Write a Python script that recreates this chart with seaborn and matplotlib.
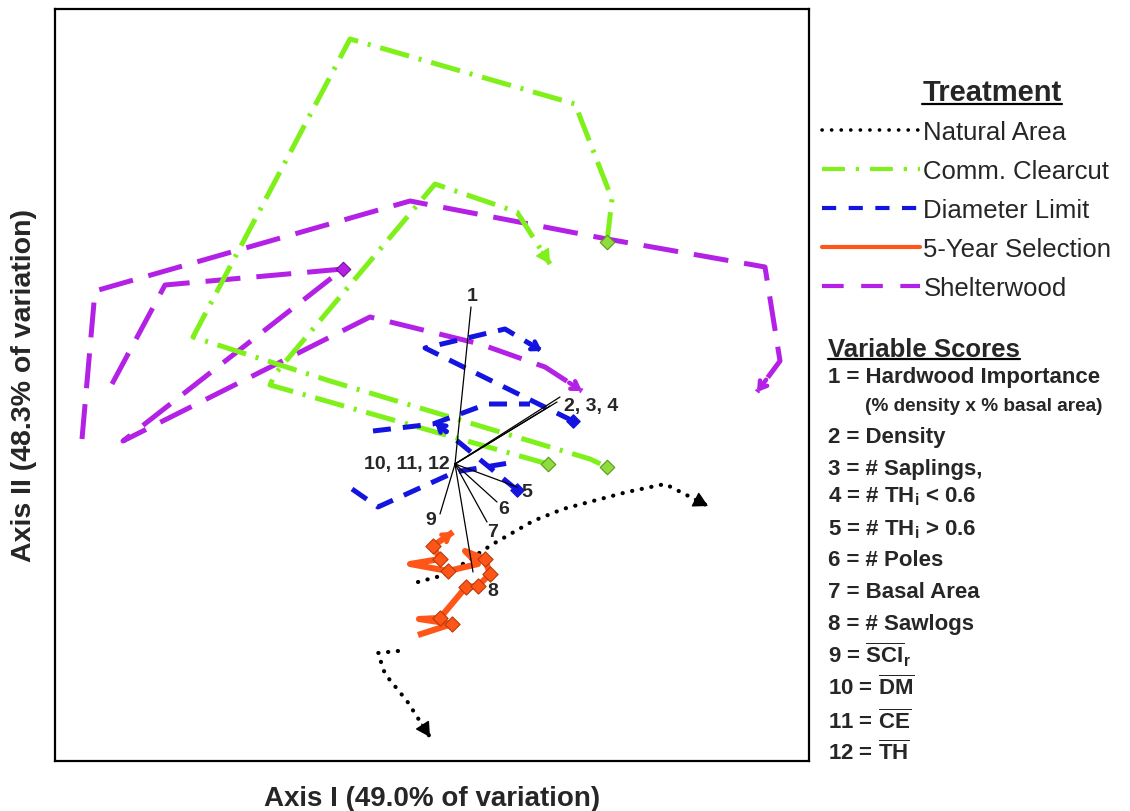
import numpy as np
import pandas as pd
import matplotlib
matplotlib.use("Agg")
import matplotlib.pyplot as plt
from matplotlib.lines import Line2D
import seaborn as sns

# ---------------- data (ordination scores) ----------------
# Natural Area (two plots)
nat_a_x = [-0.37, -0.07, 0.15, 0.38, 0.78, 1.08, 1.38, 1.72, 2.10, 2.53]
nat_a_y = [-1.18, -1.10, -0.95, -0.80, -0.57, -0.45, -0.37, -0.28, -0.20, -0.42]
nat_b_x = [-0.57, -0.77, -0.70, -0.48, -0.25]
nat_b_y = [-1.87, -1.89, -2.10, -2.37, -2.73]

# Commercial clearcut
cc_a_x = [1.52, 1.57, 1.20, -1.05, -2.62, -1.25, 1.35, 1.52]
cc_a_y = [2.22, 2.65, 3.60, 4.25, 1.27, 0.83, 0.05, -0.03]
cc_b_x = [0.93, -1.85, -1.80, -0.20, 0.62, 0.95]
cc_b_y = [0.00, 0.79, 0.90, 2.80, 2.52, 2.00]

# Diameter limit
dl_a_x = [1.18, -0.30, 0.50, 0.87]
dl_a_y = [0.43, 1.16, 1.35, 1.13]
dl_b_x = [0.62, 0.00, -0.20]
dl_b_y = [-0.26, 0.25, 0.42]
dl_c_x = [-1.03, -0.77, 0.00, 0.60]
dl_c_y = [-0.25, -0.43, -0.08, 0.02]
dl_d_x = [-0.82, -0.22, 0.32, 0.75]
dl_d_y = [0.33, 0.40, 0.60, 0.60]

# 5-year selection
sel_x = [-0.37, -0.03, -0.36, -0.15, 0.11, 0.23, 0.35, 0.30, 0.10, 0.23, -0.07, -0.45, -0.15, -0.22, -0.02]
sel_y = [-1.71, -1.60, -1.55, -1.54, -1.23, -1.22, -1.10, -0.95, -0.87, -1.00, -1.07, -1.00, -0.95, -0.82, -0.68]
sel_marked = [1, 3, 4, 5, 6, 7, 10, 12, 13]

# Shelterwood
sh_a_x = [-3.43, -2.90, -1.12, -3.32, -0.85, 0.25, 0.90, 1.27]
sh_a_y = [0.80, 1.79, 1.95, 0.23, 1.47, 1.20, 0.97, 0.73]
sh_b_x = [-3.73, -3.60, -0.45, 1.52, 3.10, 3.25, 3.02]
sh_b_y = [0.25, 1.73, 2.63, 2.25, 1.97, 1.03, 0.72]

# Variable score vectors
vec_names = ["1", "2", "3", "4", "5", "6", "7", "8", "9", "10", "11", "12"]
vec_x = [0.16, 1.05, 1.02, 0.95, 0.62, 0.42, 0.32, 0.18, -0.15, 0.0, 0.0, 0.0]
vec_y = [1.57, 0.67, 0.62, 0.58, -0.23, -0.38, -0.58, -1.08, -0.50, 0.0, 0.0, 0.0]

treatments = ["Natural Area", "Comm. Clearcut", "Diameter Limit", "5-Year Selection", "Shelterwood"]
var_score_labels = [
    "1 = Hardwood Importance",
    "(% density x % basal area)",
    "2 = Density",
    "3 = # Saplings,",
    r"4 = # TH$_\mathbf{i}$ < 0.6",
    r"5 = # TH$_\mathbf{i}$ > 0.6",
    "6 = # Poles",
    "7 = Basal Area",
    "8 = # Sawlogs",
    r"9 = $\overline{\mathbf{SCI}}_\mathbf{r}$",
    r"10 = $\overline{\mathbf{DM}}$",
    r"11 = $\overline{\mathbf{CE}}$",
    r"12 = $\overline{\mathbf{TH}}$",
]
x_label = "Axis I (49.0% of variation)"
y_label = "Axis II (48.3% of variation)"

# ---------------- style ----------------
sns.set_style("white")
plt.rcParams["font.family"] = ["Liberation Sans", "DejaVu Sans"]
plt.rcParams["mathtext.fontset"] = "custom"
plt.rcParams["mathtext.rm"] = "Liberation Sans"
plt.rcParams["mathtext.bf"] = "Liberation Sans:bold"
plt.rcParams["mathtext.it"] = "Liberation Sans:italic"

C_NAT = "black"
C_CC = "#7ff01a"
C_DL = "#1414e0"
C_SEL = "#ff5518"
C_SH = "#b421e6"

LS_NAT = (0, (0.05, 2.3))
LS_CC = (0, (6.0, 2.0, 0.6, 2.0))
LS_DL = (0, (3.6, 2.4))
LS_SH = (0, (7.0, 3.2))

fig = plt.figure(figsize=(11.3, 8.12), dpi=100)
ax = fig.add_axes([55 / 1130, 50 / 812, 754 / 1130, 752 / 812])


def draw_path(xs, ys, color, ls, lw, capstyle="butt", arrow=None, zorder=2, alen=11):
    sns.lineplot(x=xs, y=ys, sort=False, estimator=None, color=color, lw=lw, ax=ax, legend=False)
    line = ax.lines[-1]
    line.set_linestyle(ls)
    line.set_dash_capstyle(capstyle)
    line.set_solid_capstyle("butt")
    line.set_solid_joinstyle("round")
    line.set_dash_joinstyle("round")
    line.set_zorder(zorder)
    if arrow is not None:
        dx = xs[-1] - xs[-2]
        dy = ys[-1] - ys[-2]
        n = np.hypot(dx, dy)
        ux, uy = dx / n, dy / n
        ax.annotate("", xy=(xs[-1], ys[-1]), xytext=(-ux * alen, -uy * alen), textcoords="offset points",
                    arrowprops=dict(arrowstyle=arrow, color=color, lw=3.2 if arrow.startswith("->") else 1,
                                    shrinkA=0, shrinkB=0),
                    zorder=zorder)
    return line


# Shelterwood
draw_path(sh_a_x, sh_a_y, C_SH, LS_SH, 3.6, arrow="->,head_length=0.5,head_width=0.32")
draw_path(sh_b_x, sh_b_y, C_SH, LS_SH, 3.6, arrow="->,head_length=0.5,head_width=0.32")
ax.scatter([sh_a_x[2]], [sh_a_y[2]], marker="D", s=55, color=C_SH, edgecolor="#7a109a", lw=0.8, zorder=3)

# Commercial clearcut
draw_path(cc_a_x, cc_a_y, C_CC, LS_CC, 3.6)
draw_path(cc_b_x, cc_b_y, C_CC, LS_CC, 3.6, arrow="-|>,head_length=0.9,head_width=0.5")
ax.scatter([cc_a_x[0], cc_a_x[-1], cc_b_x[0]], [cc_a_y[0], cc_a_y[-1], cc_b_y[0]],
           marker="D", s=55, color="#8fdc3c", edgecolor="#5a9a20", lw=0.8, zorder=3)

# Diameter limit
draw_path(dl_a_x, dl_a_y, C_DL, LS_DL, 3.6, arrow="->,head_length=0.5,head_width=0.32")
draw_path(dl_b_x, dl_b_y, C_DL, LS_DL, 3.6, arrow="->,head_length=0.5,head_width=0.32")
draw_path(dl_c_x, dl_c_y, C_DL, LS_DL, 3.6)
draw_path(dl_d_x, dl_d_y, C_DL, LS_DL, 3.6)
ax.scatter([dl_a_x[0], dl_b_x[0]], [dl_a_y[0], dl_b_y[0]], marker="D", s=45, color=C_DL, zorder=3)

# Natural area
draw_path(nat_a_x, nat_a_y, C_NAT, LS_NAT, 3.0, capstyle="round", arrow="-|>,head_length=0.9,head_width=0.5")
draw_path(nat_b_x, nat_b_y, C_NAT, LS_NAT, 3.0, capstyle="round", arrow="-|>,head_length=0.9,head_width=0.5")

# 5-year selection
draw_path(sel_x, sel_y, C_SEL, "-", 4.4, arrow="->,head_length=0.5,head_width=0.32", zorder=4, alen=12)
ax.scatter([sel_x[i] for i in sel_marked], [sel_y[i] for i in sel_marked], marker="D", s=60,
           color=C_SEL, edgecolor="#b83a0a", lw=0.8, zorder=5)

# Variable vectors
for vx, vy in zip(vec_x, vec_y):
    ax.plot([0, vx], [0, vy], color="black", lw=0.9, zorder=6)

lab_kw = dict(fontsize=14, fontweight="bold", textcoords="offset points", zorder=7)
ax.annotate("1", (vec_x[0], vec_y[0]), xytext=(1, 8), ha="center", va="center", **lab_kw)
ax.annotate("2, 3, 4", (vec_x[3], vec_y[3]), xytext=(10, 0), ha="left", va="center", **lab_kw)
ax.annotate("5", (vec_x[4], vec_y[4]), xytext=(3, -3), ha="left", va="center", **lab_kw)
ax.annotate("6", (vec_x[5], vec_y[5]), xytext=(1, -5), ha="left", va="center", **lab_kw)
ax.annotate("7", (vec_x[6], vec_y[6]), xytext=(0, -7), ha="left", va="center", **lab_kw)
ax.annotate("8", (vec_x[7], vec_y[7]), xytext=(10, -13), ha="left", va="center", **lab_kw)
ax.annotate("9", (vec_x[8], vec_y[8]), xytext=(-3, -4), ha="right", va="center", **lab_kw)
ax.annotate("10, 11, 12", (vec_x[9], vec_y[9]), xytext=(-4, 0), ha="right", va="center", **lab_kw)

ax.set_xlim(-4.0, 3.54)
ax.set_ylim(-2.97, 4.55)
ax.set_xticks([])
ax.set_yticks([])
for s in ax.spines.values():
    s.set_visible(True)
    s.set_color("black")
    s.set_linewidth(1.6)
ax.set_xlabel(x_label, fontsize=20, fontweight="bold", labelpad=17)
ax.set_ylabel(y_label, fontsize=20.5, fontweight="bold", labelpad=13)

# ---------------- legend ----------------
handles = [
    Line2D([], [], color=C_NAT, lw=2.6, linestyle=(0, (0.05, 2.6)), dash_capstyle="round"),
    Line2D([], [], color=C_CC, lw=3.0, linestyle=(0, (5.5, 2.6, 0.8, 2.6))),
    Line2D([], [], color=C_DL, lw=3.0, linestyle=(0, (3.4, 3.0))),
    Line2D([], [], color=C_SEL, lw=3.0, linestyle="-"),
    Line2D([], [], color=C_SH, lw=3.0, linestyle=(0, (5.2, 4.2))),
]
fig.legend(handles, treatments, loc="center left", bbox_to_anchor=(822 / 1130, 1 - 211 / 812),
           frameon=False, fontsize=18.5, handlelength=3.8, handletextpad=0.15, labelspacing=0.58,
           borderpad=0, borderaxespad=0)

t1 = fig.text(992 / 1130, 1 - 93 / 812, "Treatment", fontsize=21, fontweight="bold", ha="center", va="center")
t2 = fig.text(828 / 1130, 1 - 350 / 812, "Variable Scores", fontsize=18.5, fontweight="bold", ha="left", va="center")

vs_y = [378, 407, 438, 470, 497, 530, 560, 593, 625, 655, 688, 722, 753]
for i, (lab, yy) in enumerate(zip(var_score_labels, vs_y)):
    if i == 1:
        fig.text(865 / 1130, 1 - yy / 812, lab, fontsize=13.7, fontweight="bold", ha="left", va="center")
    else:
        fig.text(828 / 1130, 1 - yy / 812, lab, fontsize=16, fontweight="bold", ha="left", va="center")

fig.canvas.draw()
r = fig.canvas.get_renderer()
for t in (t1, t2):
    bb = t.get_window_extent(r).transformed(fig.transFigure.inverted())
    fig.add_artist(Line2D([bb.x0, bb.x1], [bb.y0 + 0.002, bb.y0 + 0.002], transform=fig.transFigure,
                          color="black", lw=1.6))

fig.savefig("out.png", dpi=100, facecolor="white")
